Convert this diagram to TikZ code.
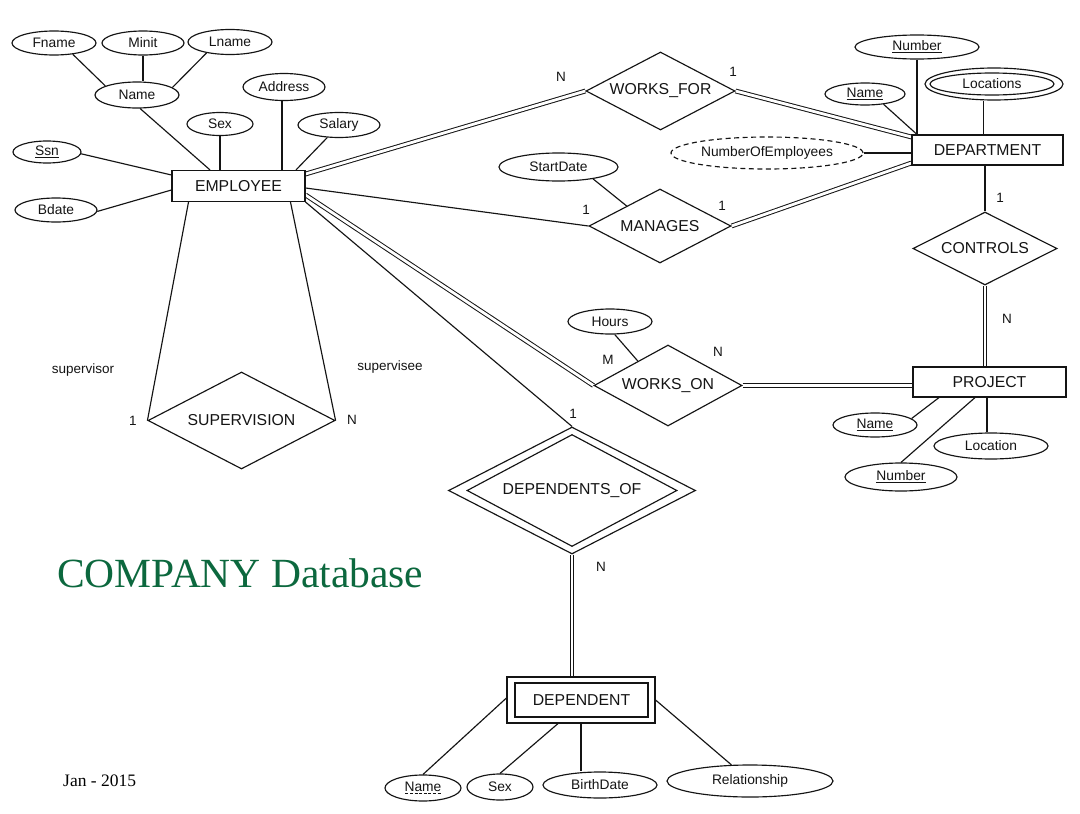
\documentclass[tikz,border=0pt]{standalone}
\usepackage{fontspec}
\setmainfont{Liberation Sans}
\newfontfamily\titleserif{Liberation Serif}
\usetikzlibrary{shapes.geometric}
\pgfdeclarelayer{bg}
\pgfsetlayers{bg,main}
\definecolor{titlegreen}{RGB}{12,104,62}
\definecolor{inkc}{RGB}{20,20,20}
\newcommand{\mydashul}[1]{\setbox0=\hbox{#1}\leavevmode\rlap{\raisebox{-2.8pt}{\hbox to \wd0{\xleaders\hbox to 4.5pt{\hss\vrule width 3pt height 0.8pt\hss}\hfil}}}\box0}
\begin{document}
\begin{tikzpicture}[x=1pt,y=-1pt,
  every node/.style={inner sep=0pt, text=inkc},
  attr/.style={ellipse, draw=inkc, line width=1.15pt, font=\fontsize{13.8}{16}\selectfont},
  ent/.style={rectangle, draw=inkc, line width=1.15pt, font=\fontsize{15.8}{18}\selectfont},
  rel/.style={diamond, draw=inkc, line width=1.15pt, aspect=2, font=\fontsize{15.8}{18}\selectfont},
  lbl/.style={font=\fontsize{13.5}{15}\selectfont},
  conn/.style={draw=inkc, line width=1.15pt},
  dconn/.style={draw=inkc, line width=1pt, double=white, double distance=2.8pt},
]
\path[use as bounding box] (0,0) rectangle (1080,814);

% ---------- EMPLOYEE ----------
\node[ent, minimum width=133pt, minimum height=31pt] (emp) at (238.5,186) {EMPLOYEE};
\node[attr, minimum width=84pt, minimum height=24pt] (fname) at (54,43) {Fname};
\node[attr, minimum width=82pt, minimum height=24pt] (minit) at (143,43) {Minit};
\node[attr, minimum width=84pt, minimum height=25pt] (lname) at (230,42) {Lname};
\node[attr, minimum width=84pt, minimum height=26pt] (ename) at (137,95) {Name};
\node[attr, minimum width=82pt, minimum height=27pt] (address) at (284,87) {Address};
\node[attr, minimum width=66pt, minimum height=23pt] (esex) at (220,124) {Sex};
\node[attr, minimum width=82pt, minimum height=25pt] (salary) at (339,125) {Salary};
\node[attr, minimum width=68pt, minimum height=22pt] (ssn) at (47,152) {\underline{Ssn}};
\node[attr, minimum width=82pt, minimum height=24pt] (bdate) at (56,210) {Bdate};

% ---------- relationships ----------
\node[rel, minimum width=149pt, minimum height=78pt] (wf) at (660.5,91) {WORKS\_FOR};
\node[rel, minimum width=142pt, minimum height=74pt] (mg) at (660,226) {MANAGES};
\node[rel, minimum width=148pt, minimum height=81pt] (wo) at (668,385.5) {WORKS\_ON};
\node[rel, minimum width=144pt, minimum height=73pt] (ctrl) at (985,248.5) {CONTROLS};
\node[rel, minimum width=187pt, minimum height=97pt] (sup) at (241.5,420.5) {SUPERVISION};
\node[rel, minimum width=247pt, minimum height=127pt] (dof) at (572,490.5) {};
\node[rel, minimum width=210pt, minimum height=112pt] (dofin) at (572,490.5) {DEPENDENTS\_OF};

% ---------- other entities ----------
\node[ent, minimum width=151pt, minimum height=30pt] (dept) at (987.5,150) {DEPARTMENT};
\node[ent, minimum width=153pt, minimum height=30pt] (proj) at (989.5,382) {PROJECT};
\node[ent, minimum width=148pt, minimum height=46pt] (depd) at (581,700) {};
\node[ent, minimum width=133pt, minimum height=34pt] (depdin) at (581.5,700) {DEPENDENT};

% ---------- attributes ----------
\node[attr, minimum width=124pt, minimum height=24pt] (dnum) at (917,47) {\underline{Number}};
\node[attr, minimum width=80pt, minimum height=22pt] (dname) at (865,94) {\underline{Name}};
\node[attr, minimum width=138pt, minimum height=32pt] (dloc) at (994,84) {};
\node[attr, minimum width=124pt, minimum height=22pt] (dlocin) at (992,84) {Locations};
\node[attr, dash pattern=on 5pt off 3.5pt, minimum width=192pt, minimum height=32pt] (noe) at (767,153) {NumberOfEmployees};
\node[attr, minimum width=119pt, minimum height=28pt] (sdate) at (558.5,167) {StartDate};
\node[attr, minimum width=84pt, minimum height=25pt] (hours) at (610,321.5) {Hours};
\node[attr, minimum width=84pt, minimum height=24pt] (pname) at (875,425) {\underline{Name}};
\node[attr, minimum width=112pt, minimum height=28pt] (pnum) at (901,477) {\underline{Number}};
\node[attr, minimum width=114pt, minimum height=26pt] (ploc) at (991,446) {Location};
\node[attr, minimum width=76pt, minimum height=26pt] (dpname) at (423,788) {\mydashul{Name}};
\node[attr, minimum width=66pt, minimum height=26pt] (dpsex) at (500,787) {Sex};
\node[attr, minimum width=114pt, minimum height=26pt] (bdt) at (600,785) {BirthDate};
\node[attr, minimum width=166pt, minimum height=32pt] (relship) at (750,781) {Relationship};

% ---------- labels ----------
\node[lbl] (l1) at (561,77) {N};
\node[lbl] (l2) at (733,72) {1};
\node[lbl] (l3) at (586,210) {1};
\node[lbl] (l4) at (722,206) {1};
\node[lbl] (l5) at (1000,198) {1};
\node[lbl] (l6) at (1007,319) {N};
\node[lbl] (l7) at (608,360) {M};
\node[lbl] (l8) at (718,352) {N};
\node[lbl] (l9) at (573,414) {1};
\node[lbl] (l10) at (601,567) {N};
\node[lbl] (l11) at (133,421) {1};
\node[lbl] (l12) at (352,420) {N};
\node[lbl] (l13) at (83,370) {supervisor};
\node[lbl] (l14) at (390,367) {supervisee};

\node[anchor=base west, font=\titleserif\fontsize{41.5}{48}\selectfont, text=titlegreen] (title) at (57,587) {COMPANY Database};
\node[anchor=base west, font=\titleserif\fontsize{17.5}{21}\selectfont, text=black] (date) at (63,786) {Jan - 2015};

% ---------- connectors ----------
\begin{pgfonlayer}{bg}
\fill[white] (0,0) rectangle (1080,814);
\draw[conn] (fname.329) -- (ename.164);
\draw[conn] (minit.south) -- (minit.south |- ename.north);
\draw[conn] (lname.205) -- (ename.12);
\draw[conn] (ename.283) -- ([xshift=-28.5pt]emp.north);
\draw[conn] (esex.south) -- (esex.south |- emp.north);
\draw[conn] ([xshift=-2pt]address.south) -- ([xshift=-2pt]address.south |- emp.north);
\draw[conn] (salary.227) -- ([xshift=57.5pt]emp.north);
\draw[conn] (ssn.357) -- ([yshift=11pt]emp.west);
\draw[conn] (bdate.358) -- ([yshift=-4pt]emp.west);

\draw[dconn] ([yshift=12pt]emp.east) -- (wf.west);
\draw[conn] ([yshift=-2pt]emp.east) -- (mg.west);
\draw[dconn] ([yshift=-9pt]emp.east) -- (wo.west);
\draw[conn] (emp.south east) -- (dof.north);
\draw[conn] ([xshift=-50pt]emp.south) -- (sup.west);
\draw[conn] ([xshift=52pt]emp.south) -- (sup.east);

\draw[dconn] (wf.east) -- ([yshift=13pt]dept.west);
\draw[dconn] (mg.east) -- ([yshift=-13pt]dept.west);
\draw[conn] (noe.east) -- (noe.east -| dept.west);
\draw[conn] (dname.331) -- ([xshift=-70.5pt]dept.north);
\draw[conn] (dnum.south) -- (dnum.south |- dept.north);
\draw[conn] ([xshift=-4pt]dept.north) -- ([xshift=-4pt]dept.north |- dloc.south);
\draw[conn] (ctrl.north |- dept.south) -- (ctrl.north);
\draw[dconn] (ctrl.south) -- (ctrl.south |- proj.north);
\draw[dconn] (wo.east) -- (wo.east -| proj.west);
\draw[conn] (sdate.341) -- (mg.149);
\draw[conn] (hours.290) -- (wo.141);
\draw[conn] (pname.10) -- ([xshift=-50.5pt]proj.south);
\draw[conn] (pnum.north) -- ([xshift=-14.5pt]proj.south);
\draw[conn] ([xshift=-2.5pt]proj.south) -- ([xshift=-2.5pt]proj.south |- ploc.north);
\draw[dconn] (dof.south) -- (dof.south |- depd.north);
\draw[conn] (dpname.north) -- ([yshift=2pt]depd.west);
\draw[conn] (dpsex.north) -- ([xshift=-23pt]depd.south);
\draw[conn] (depd.south) -- (depd.south |- bdt.north);
\draw[conn] (relship.139) -- (depd.east);
\end{pgfonlayer}
\end{tikzpicture}
\end{document}
